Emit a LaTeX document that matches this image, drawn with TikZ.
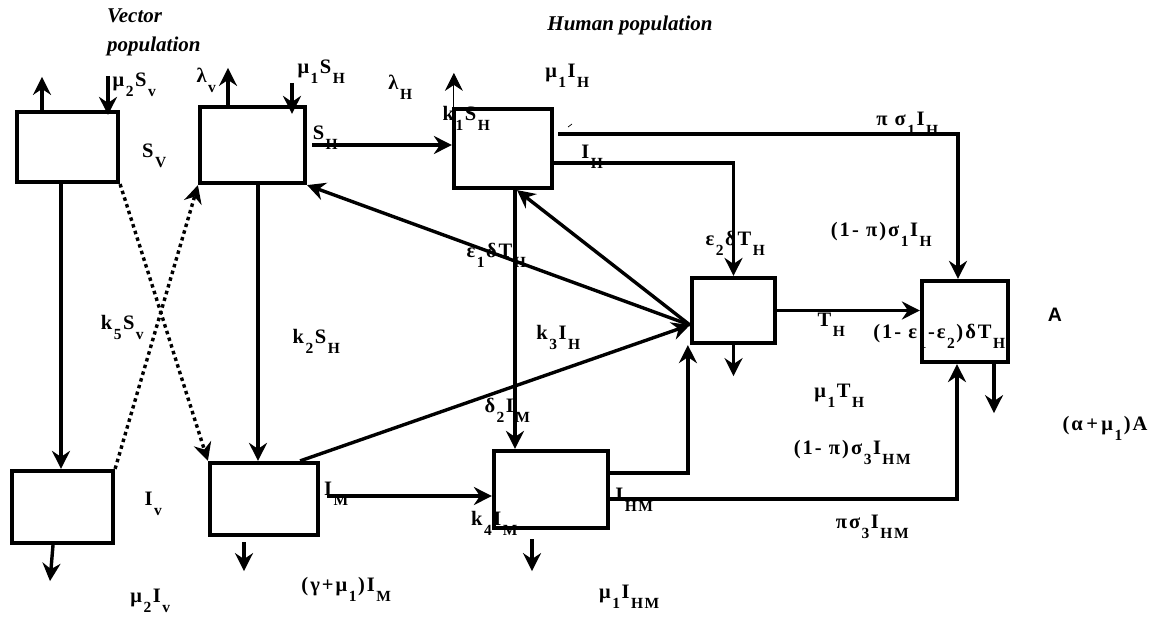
\documentclass[tikz,border=0pt]{standalone}
\usepackage{fontspec}
\setmainfont{Liberation Serif}
\newfontfamily\eqfont[LetterSpace=10]{Liberation Serif}
\newfontfamily\sansA{Liberation Sans}
\usetikzlibrary{arrows.meta}
% lowered subscript, as in the original equation labels
\newcommand{\lw}[1]{\kern1.5pt\raisebox{-10pt}{\fontsize{15.5}{15.5}\selectfont #1}\kern1.5pt}

\begin{document}
\begin{tikzpicture}[x=1pt, y=-1pt,
    box/.style 2 args={draw, line width=4.2pt, minimum width=#1pt, minimum height=#2pt, inner sep=0pt},
    arr/.style={-{Stealth[length=18pt, width=18pt, inset=6pt]}, line width=3.4pt},
    dots/.style={dash pattern=on 3.5pt off 3.5pt},
    lbl/.style={font=\eqfont\fontsize{20.5}{22}\selectfont\bfseries, inner sep=0pt},
    ttl/.style={font=\fontsize{21}{24}\selectfont\bfseries\itshape, inner sep=0pt, align=left}
  ]
  \fill[white] (0,0) rectangle (1170,616);
  \useasboundingbox (0,0) rectangle (1170,616);

  % compartments
  \node[box={101}{70}] (Sv) at (67.5,147) {};
  \node[box={105}{76}] (SH) at (252.5,145) {};
  \node[box={98}{79}] (IH) at (503,148.5) {};
  \node[box={83}{65}] (TH) at (733.5,310.5) {};
  \node[box={86}{81}] (A) at (965,321.5) {};
  \node[box={101}{72}] (Iv) at (62.5,507) {};
  \node[box={108}{72}] (IM) at (264,499) {};
  \node[box={114}{77}] (IHM) at (551,489.5) {};
  \coordinate (thl) at ([yshift=-14.5pt]TH.west);

  % titles
  \node[ttl, anchor=north west] (vtitle) at (107,9) {Vector\\[5pt]population};
  \node[ttl] (htitle) at (630,25) {Human population};

  % vector flows
  \draw[arr] ([xshift=-25.5pt]Sv.north) -- ++(0,-33);
  \draw[arr] ([xshift=40.5pt,yshift=34pt]Sv.north) -- ([xshift=40.5pt,yshift=-5pt]Sv.north);
  \draw[arr] ([xshift=-6.5pt]Sv.south) coordinate (p) -- (p |- Iv.north);
  \draw[arr] ([xshift=-9.5pt]Iv.south) -- ++(-3,36);
  \draw[arr, dots] (Sv.south east) -- (IM.north west);
  \draw[arr, dots] (Iv.north east) -- (SH.south west);

  % human flows
  \draw[arr] ([xshift=-24.5pt]SH.north) -- ++(0,-37);
  \draw[arr] ([xshift=39.5pt,yshift=22pt]SH.north) -- ([xshift=39.5pt,yshift=-9pt]SH.north);
  \draw[arr] ([xshift=5pt]SH.east) -- (SH.east -| IH.west);
  \draw[arr] ([xshift=5.5pt]SH.south) coordinate (p) -- (p |- IM.north);
  \draw[arr, line width=1pt] ([xshift=2pt]IH.north west) -- ++(0,-34);
  \draw[line width=0.7pt] (568,127) -- (572,124);
  \draw[arr] ([xshift=4pt,yshift=14.5pt]IH.east) -| ([xshift=-7pt]A.north);
  \draw[arr] ([yshift=-14.5pt]IH.east) -| (TH.north);
  \draw[arr] ([xshift=12pt]IH.south) coordinate (p) -- (p |- IHM.north);
  \draw[arr] (thl) -- (SH.south east);
  \draw[arr] (thl) -- ([xshift=14pt]IH.south);
  \draw[arr] ([xshift=-20pt]IM.north east) -- (thl);
  \draw[arr] (TH.east) -- (TH.east -| A.west);
  \draw[arr] (TH.south) -- ++(0,31);
  \draw[arr] ([xshift=29pt]A.south) -- ++(0,49);
  \draw[arr] ([xshift=7pt,yshift=3pt]IM.east) coordinate (p) -- (p -| IHM.west);
  \draw[arr] ([xshift=-20pt,yshift=-5pt]IM.south) -- ++(0,29);
  \draw[arr] ([yshift=16.5pt]IHM.east) -| ([xshift=-2pt]TH.south west);
  \draw[arr] ([yshift=-9.5pt]IHM.east) -| ([xshift=-8pt]A.south);
  \draw[arr] ([xshift=-19pt,yshift=-9pt]IHM.south) -- ++(0,32);

  % rate labels
  \node[lbl] (lmuSv) at (135,85) {μ\lw{2}S\lw{v}};
  \node[lbl] (lSv) at (155,156) {S\lw{V}};
  \node[lbl] (llamv) at (207,80) {λ\lw{v}};
  \node[lbl] (lmuSH) at (322,72) {μ\lw{1}S\lw{H}};
  \node[lbl] (lSH) at (326,138) {S\lw{H}};
  \node[lbl] (llamH) at (401,87) {λ\lw{H}};
  \node[lbl] (lkoneSH) at (467,118) {k\lw{1}S\lw{H}};
  \node[lbl] (lmuIH) at (568,76) {μ\lw{1}I\lw{H}};
  \node[lbl] (lIH) at (593,157) {I\lw{H}};
  \node[lbl] (lpisIH) at (908,124) {π σ\lw{1}I\lw{H}};
  \node[lbl] (leptwo) at (736,243) {ε\lw{2}δT\lw{H}};
  \node[lbl] (lnpisIH) at (882,234) {(1- π)σ\lw{1}I\lw{H}};
  \node[lbl] (lepone) at (497,255) {ε\lw{1}δT\lw{H}};
  \node[lbl] (lkfiveSv) at (123,327) {k\lw{5}S\lw{v}};
  \node[lbl] (lktwoSH) at (317,341) {k\lw{2}S\lw{H}};
  \node[lbl] (lkthreeIH) at (559,337) {k\lw{3}I\lw{H}};
  \node[lbl] (lTH) at (832,325) {T\lw{H}};
  \node[lbl] (lepsA) at (940,336) {(1- ε\lw{1}-ε\lw{2})δT\lw{H}};
  \node[font=\fontsize{19.5}{21}\selectfont\sansA\bfseries, inner sep=0pt] (lA) at (1055,315) {A};
  \node[lbl] (lmuTH) at (840,396) {μ\lw{1}T\lw{H}};
  \node[lbl] (ldeltwo) at (508,410) {δ\lw{2}I\lw{M}};
  \node[lbl] (lnpisIHM) at (853,452) {(1- π)σ\lw{3}I\lw{HM}};
  \node[lbl] (lalpA) at (1105,428) {(α\,+\,μ\lw{1})A};
  \node[lbl] (lIv) at (154,504) {I\lw{v}};
  \node[lbl] (lIM) at (337,494) {I\lw{M}};
  \node[lbl] (lIHM) at (635,500) {I\lw{HM}};
  \node[lbl] (lpisIHM) at (873,527) {πσ\lw{3}I\lw{HM}};
  \node[lbl] (lkfourIM) at (495,523) {k\lw{4}I\lw{M}};
  \node[lbl] (lgamIM) at (347,589) {(γ+μ\lw{1})I\lw{M}};
  \node[lbl] (lmuIHM) at (630,597) {μ\lw{1}I\lw{HM}};
  \node[lbl] (lmuIv) at (151,601) {μ\lw{2}I\lw{v}};
\end{tikzpicture}
\end{document}
